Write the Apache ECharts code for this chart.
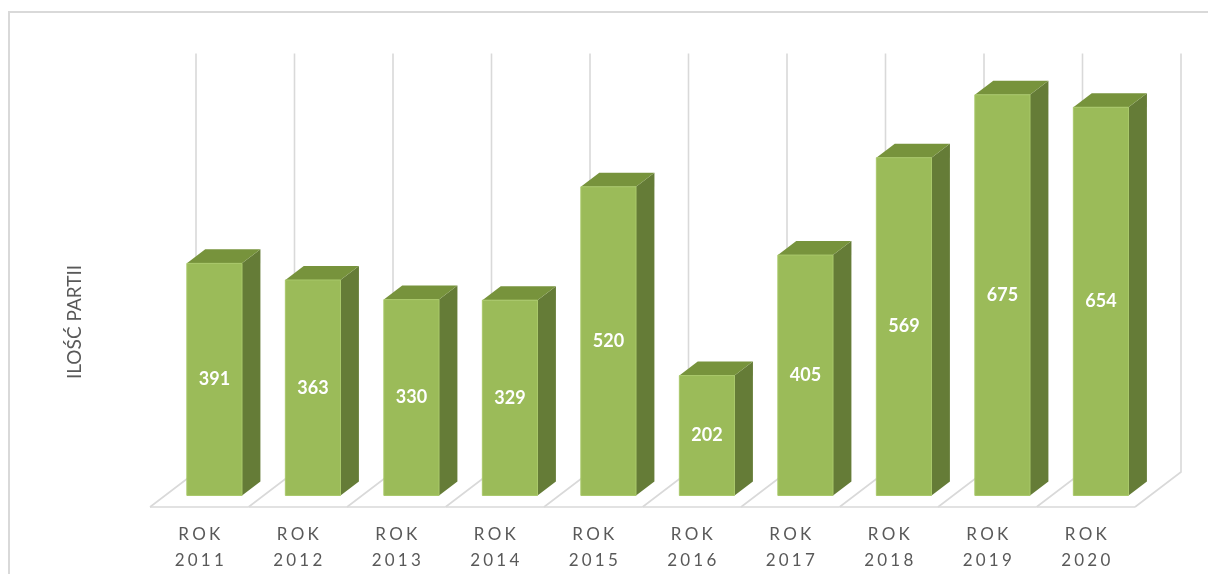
<!DOCTYPE html>
<html>
<head>
<meta charset="utf-8">
<script src="https://cdn.jsdelivr.net/npm/echarts@6/dist/echarts.min.js"></script>
<style>
  html, body { margin: 0; padding: 0; background: #fff; }
  #chart { width: 1208px; height: 574px; }
</style>
</head>
<body>
<div id="chart"></div>
<script>
  var years = ['ROK 2011', 'ROK 2012', 'ROK 2013', 'ROK 2014', 'ROK 2015', 'ROK 2016', 'ROK 2017', 'ROK 2018', 'ROK 2019', 'ROK 2020']
  var counts = [391, 363, 330, 329, 520, 202, 405, 569, 675, 654]
  var axisMax = 700
  var yTitle = 'ILOŚĆ PARTII'

  // fake 3d: floor depth in px, bars stand between 33% and 73% of it
  var depthX = 46
  var depthY = -35
  var barFront = 0.33
  var barBack = 0.73
  var barWidth = 0.56

  var gridColor = '#d9d9d9'
  var textColor = '#595959'

  function renderFloor (params, api) {
    var i = api.value(0)
    var base = api.coord([i, 0])
    var top = api.coord([i, axisMax])
    var cw = api.size([1, 0])[0]
    var left = base[0] - cw / 2
    var right = base[0] + cw / 2
    var y = base[1]
    var lineStyle = {stroke: gridColor, lineWidth: 1.6, fill: 'none'}
    var edge = function (x) {
      return {
        type: 'polyline',
        shape: {points: [[x, y], [x + depthX, y + depthY], [x + depthX, top[1] + depthY - 3]]},
        style: lineStyle
      }
    }
    var children = [
      {type: 'line', shape: {x1: left, y1: y, x2: right, y2: y}, style: lineStyle},
      edge(left)
    ]
    if (params.dataIndex === years.length - 1) {
      children.push(edge(right))
    }
    return {type: 'group', children: children}
  }

  function renderBar (params, api) {
    var i = api.value(0)
    var v = api.value(1)
    var base = api.coord([i, 0])
    var top = api.coord([i, v])
    var bw = api.size([1, 0])[0] * barWidth
    var fx = depthX * barFront
    var fy = depthY * barFront
    var bx = depthX * barBack
    var by = depthY * barBack
    var x0 = base[0] - bw / 2 + fx
    var x1 = base[0] + bw / 2 + fx
    var y0 = base[1] + fy
    var y1 = top[1] + fy
    var sx = bx - fx
    var sy = by - fy
    return {
      type: 'group',
      children: [
        {
          type: 'polygon',
          shape: {points: [[x1, y0], [x1 + sx, y0 + sy], [x1 + sx, y1 + sy], [x1, y1]]},
          style: {fill: '#657c37'}
        },
        {
          type: 'polygon',
          shape: {points: [[x0, y1], [x1, y1], [x1 + sx, y1 + sy], [x0 + sx, y1 + sy]]},
          style: {fill: '#77933c'}
        },
        {
          type: 'rect',
          shape: {x: x0, y: y1, width: x1 - x0, height: y0 - y1},
          style: {fill: '#9bbb59', stroke: '#a9c86a', lineWidth: 1}
        },
        {
          type: 'text',
          style: {
            text: String(v),
            x: (x0 + x1) / 2,
            y: (y0 + y1) / 2,
            align: 'center',
            verticalAlign: 'middle',
            fill: '#ffffff',
            font: 'bold 18px Lato, "Open Sans", sans-serif'
          }
        }
      ]
    }
  }

  var chart = echarts.init(document.getElementById('chart'))
  chart.setOption({
    animation: false,
    grid: {
      left: 150,
      right: 73,
      top: 91.5,
      bottom: 67
    },
    xAxis: {
      type: 'category',
      data: years,
      axisLine: {show: false},
      axisTick: {show: false},
      axisLabel: {
        margin: 15,
        color: textColor,
        fontSize: 17,
        lineHeight: 26,
        fontFamily: 'Lato, sans-serif',
        formatter: function (val) {
          // excel draws these with wide letter spacing
          return val.split(' ').map(function (w) {
            return w.split('').join('\u2009\u200a')
          }).join('\n')
        }
      }
    },
    yAxis: {
      type: 'value',
      min: 0,
      max: axisMax,
      axisLine: {show: false},
      axisTick: {show: false},
      axisLabel: {show: false},
      splitLine: {show: false}
    },
    graphic: [
      {
        type: 'rect',
        shape: {x: 9, y: 12, width: 1260, height: 620},
        style: {fill: 'none', stroke: gridColor, lineWidth: 2},
        silent: true
      },
      {
        type: 'text',
        x: 75,
        y: 322,
        rotation: Math.PI / 2,
        style: {
          text: yTitle,
          align: 'center',
          verticalAlign: 'middle',
          fill: textColor,
          font: '19px Lato, "Open Sans", sans-serif'
        }
      }
    ],
    series: [
      {
        type: 'custom',
        z: 1,
        clip: false,
        silent: true,
        renderItem: renderFloor,
        data: years.map(function (y, i) { return [i, axisMax] })
      },
      {
        type: 'custom',
        z: 2,
        clip: false,
        renderItem: renderBar,
        data: counts.map(function (v, i) { return [i, v] })
      }
    ]
  })
</script>
</body>
</html>
